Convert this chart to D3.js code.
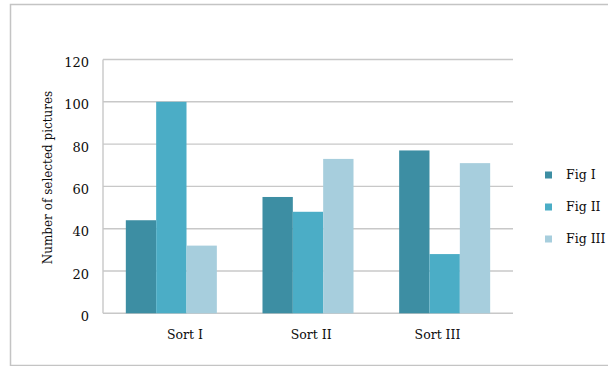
<!DOCTYPE html>
<html>
<head>
<meta charset="utf-8">
<script src="https://cdn.jsdelivr.net/npm/d3@7"></script>
<style>
  html, body { margin: 0; padding: 0; background: #fff; }
  svg { display: block; }
  text { font-family: "DejaVu Serif", serif; fill: #0d0d0d; }
</style>
</head>
<body>
<svg id="chart" width="608" height="366"></svg>
<script>
// Data
const categories = ["Sort I", "Sort II", "Sort III"];
const seriesNames = ["Fig I", "Fig II", "Fig III"];
const figI   = [44, 55, 77];
const figII  = [100, 48, 28];
const figIII = [32, 73, 71];
const yTicks = [0, 20, 40, 60, 80, 100, 120];
const seriesColors = ["#3d8ea3", "#4badc6", "#a7cedd"];

const seriesValues = [figI, figII, figIII];

const svg = d3.select("#chart");

// Outer frame (open on the right)
svg.append("path")
  .attr("d", "M608,4.5 H10.5 V365.5 H608")
  .attr("fill", "none")
  .attr("stroke", "#c4c4c4")
  .attr("stroke-width", 1.5);

const plot = { left: 103, right: 513, top: 59.5, bottom: 313.3 };

const x = d3.scaleBand()
  .domain(categories)
  .range([plot.left, plot.right])
  .paddingInner(0.334)
  .paddingOuter(0.167);

// Category label positions along the bottom
const xLabel = d3.scalePoint()
  .domain(categories)
  .range([184.5, 437]);

const xs = d3.scaleBand()
  .domain(seriesNames)
  .range([0, x.bandwidth()]);

const y = d3.scaleLinear()
  .domain([0, 120])
  .range([plot.bottom, plot.top]);

// Horizontal gridlines
svg.append("g")
  .selectAll("line")
  .data(yTicks)
  .join("line")
  .attr("x1", plot.left)
  .attr("x2", plot.right)
  .attr("y1", d => y(d))
  .attr("y2", d => y(d))
  .attr("stroke", "#c8c8c8")
  .attr("stroke-width", 1.4);

// Vertical axis line
svg.append("line")
  .attr("x1", plot.left).attr("x2", plot.left)
  .attr("y1", plot.top).attr("y2", plot.bottom)
  .attr("stroke", "#c8c8c8")
  .attr("stroke-width", 1.4);

// Y tick labels
const yAxis = d3.axisLeft(y).tickValues(yTicks).tickSize(0).tickPadding(14);
const yg = svg.append("g")
  .attr("transform", `translate(${plot.left},0)`)
  .call(yAxis);
yg.select(".domain").remove();
yg.selectAll("text")
  .attr("font-family", "DejaVu Serif, serif")
  .attr("font-size", 13)
  .attr("fill", "#0d0d0d")
  .attr("dy", "0.55em");

// Category labels
const xAxis = d3.axisBottom(xLabel).tickSize(0).tickPadding(17);
const xg = svg.append("g")
  .attr("transform", `translate(0,${plot.bottom})`)
  .call(xAxis);
xg.select(".domain").remove();
xg.selectAll("text")
  .attr("font-family", "DejaVu Serif, serif")
  .attr("font-size", 12.5)
  .attr("fill", "#0d0d0d");

// Bars
const groups = svg.append("g")
  .selectAll("g")
  .data(categories)
  .join("g")
  .attr("transform", d => `translate(${x(d)},0)`);

groups.selectAll("rect")
  .data((c, i) => seriesNames.map((s, j) => ({ s, j, v: seriesValues[j][i] })))
  .join("rect")
  .attr("x", d => xs(d.s))
  .attr("width", xs.bandwidth())
  .attr("y", d => y(d.v))
  .attr("height", d => y(0) - y(d.v))
  .attr("fill", d => seriesColors[d.j]);

// Y axis title
svg.append("text")
  .attr("transform", "translate(52,177.5) rotate(-90)")
  .attr("text-anchor", "middle")
  .attr("font-size", 12)
  .text("Number of selected pictures");

// Legend
const legend = svg.append("g")
  .selectAll("g")
  .data(seriesNames)
  .join("g")
  .attr("transform", (d, i) => `translate(545,${175 + i * 32})`);

legend.append("rect")
  .attr("x", 0).attr("y", -3.5)
  .attr("width", 7).attr("height", 7)
  .attr("fill", (d, i) => seriesColors[i]);

legend.append("text")
  .attr("x", 21)
  .attr("y", 4)
  .attr("font-size", 12.5)
  .text(d => d);
</script>
</body>
</html>
